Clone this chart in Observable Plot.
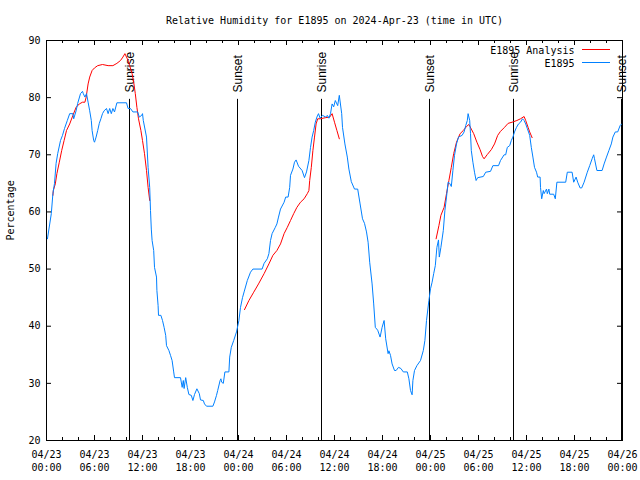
<!DOCTYPE html>
<html><head><meta charset="utf-8">
<script src="https://cdn.jsdelivr.net/npm/d3@7"></script>
<script src="https://cdn.jsdelivr.net/npm/@observablehq/plot@0.6"></script>
<style>body{margin:0;background:#fff} svg{display:block}</style>
</head><body><div id="chart"></div>
<script>
const title = "Relative Humidity for E1895 on 2024-Apr-23 (time in UTC)";
const startTime = "2024-04-23T00:00:00Z";
const endTime = "2024-04-26T00:00:00Z";
const yLabel = "Percentage";
const seriesNames = ["E1895 Analysis", "E1895"];
const seriesColors = ["#ff0000", "#0080ff"];
const yTicks = [20, 30, 40, 50, 60, 70, 80, 90];
const sunEventHours = [10.375, 23.875, 34.375, 47.875, 58.375, 71.875];
const sunEventLabels = ["Sunrise", "Sunset", "Sunrise", "Sunset", "Sunrise", "Sunset"];

// E1895 observations: hours since start, relative humidity (%)
const obsHours = [0.12,0.6,0.8,1.0,1.2,1.4,1.75,2.0,2.25,2.6,2.9,3.3,3.4,3.7,3.9,4.25,4.5,4.6,4.8,5.0,5.2,5.4,5.6,5.7,5.9,6.0,6.2,6.4,6.6,6.8,7.0,7.2,7.5,7.7,7.9,8.1,8.3,8.5,8.8,10.0,10.2,10.5,10.8,11.4,11.6,11.9,12.0,12.1,12.5,12.7,12.9,13.0,13.1,13.2,13.4,13.5,13.75,13.8,13.95,14.0,14.3,14.5,14.7,14.9,15.0,15.3,15.5,15.7,15.9,16.0,16.75,16.96,17.1,17.2,17.4,17.6,17.8,18.1,18.3,18.5,18.8,19.1,19.25,19.6,19.75,20.0,20.8,21.0,21.25,21.4,21.7,21.8,21.9,22.1,22.3,22.8,22.9,23.1,23.4,23.75,24.05,24.25,24.5,24.7,25.1,25.5,25.8,26.95,27.2,27.6,27.8,28.0,28.2,28.6,28.8,29.0,29.25,29.7,29.9,30.2,30.4,30.5,30.8,31.0,31.2,31.5,31.95,32.25,32.5,32.8,33.0,33.2,33.4,33.6,33.8,34.0,34.2,34.5,34.9,35.1,35.3,35.5,35.7,35.9,36.1,36.4,36.6,36.9,37.0,37.3,37.6,37.8,38.1,38.5,38.9,39.2,39.5,39.75,40.0,40.2,40.4,40.7,40.9,41.1,41.4,41.7,41.95,42.2,42.4,42.7,42.8,43.0,43.2,43.5,43.7,44.0,44.3,44.6,45.1,45.3,45.5,45.7,45.8,46.0,46.3,46.75,47.1,47.3,47.5,47.8,48.0,48.2,48.4,48.6,48.8,49.0,49.1,49.3,49.6,49.8,50.0,50.2,50.4,50.6,50.8,51.0,51.25,51.5,51.95,52.2,52.4,52.6,52.7,52.9,53.0,53.1,53.3,53.5,53.7,53.9,54.6,54.9,55.5,55.8,56.5,56.75,57.2,57.4,57.6,57.9,58.1,58.3,58.5,58.75,59.0,59.25,59.5,59.7,59.9,60.1,60.4,60.6,60.8,61.0,61.25,61.4,61.7,61.75,61.9,62.1,62.2,62.5,62.6,62.8,62.9,63.4,63.6,63.8,64.9,65.1,65.7,65.9,66.2,66.4,66.7,66.9,67.2,67.6,67.9,68.2,68.4,68.5,68.8,69.45,69.7,70.0,70.3,70.6,70.8,71.1,71.4,71.7,71.9];
const obsValues = [55.3,59.7,63.2,65,68.5,70.2,72.5,73.4,74.6,76,77.2,77.2,76.3,77.7,79,80.7,81.1,80.7,80.1,80.7,79.2,77.7,76,74.25,72.5,72.2,73.1,74.25,75.5,76.3,77.2,77.7,78.1,77.2,78.1,77.2,78.1,77.5,79.1,79.1,78.1,78.1,77.5,77.5,76.6,76.9,77.2,76,73.1,67.8,64.3,60.25,57,55,53.25,50.3,48.6,46.25,43.6,41.9,41.9,41,39.8,38.4,36.6,35.75,34.9,34,32,31,31,29.3,30.5,29.1,31,29.3,28.05,27.9,27,28.05,29.05,28.2,27.1,27,26.4,26,26,26.75,27.9,28.75,30.5,30.8,30.2,30,32,32,34.6,36.3,37.5,39,41,43.3,45,46,48,49.45,50,50,51,51.8,52.7,55,56.2,57.3,57.9,59.1,60.5,61.7,62.6,62.6,64.3,66.4,67.5,68.7,69.1,68,67.25,66,67,69,71.3,73.1,74.25,75.7,76.6,77.2,76.4,76.9,76.6,76.9,76.4,77.2,78.9,78.4,79.5,78.6,80.4,77.2,74.8,71.9,69.6,67.5,65.3,64,64,61.4,58.8,58,56.5,54.7,51.2,47.4,43.9,39.8,39.3,38.1,39.8,41,37.8,35.2,35.7,34.9,33.4,32.25,32.25,32.8,32.6,32,32,30.8,28.75,28,30.5,32.25,33.1,34,35.75,37.5,41,44.5,46.55,47.7,49.2,50.6,53.8,55.1,52.1,53.8,56.75,60.25,62.6,65.2,65,64.45,67.25,69.9,71.9,73.1,73.4,74,75.1,76,77.2,76,73.7,70.75,68.7,66.95,65.5,66,66.2,66.95,67.1,68.1,68.1,69,70,70,71.3,71.6,72.5,73.1,74,74.8,75.4,75.7,76.3,76,75.4,74.6,73.4,71.3,69.6,67.8,66.95,66.1,66.1,64.3,62.3,63.75,63.2,64,63.2,64,63.1,63.1,62.3,65.2,65.2,66.95,66.95,65.2,66.1,65.2,64.2,64.2,65.2,66.95,68.1,69.3,70,69.3,67.25,67.25,68.4,69.6,70.75,71.9,73.1,74,74,75.1,75.4];

// E1895 Analysis: three 12-hour runs
const anaHours = [0.8,0.85,1.1,1.3,1.6,1.9,2.2,2.5,2.9,3.3,3.7,4.1,4.5,4.8,4.96,5.2,5.4,5.7,6.0,6.4,7.0,7.7,8.3,8.8,9.25,9.55,9.8,10.1,10.4,10.7,10.9,11.1,11.3,11.5,11.8,12.0,12.25,12.5,12.7,12.9,
  24.75,25.3,25.9,26.5,27.2,27.8,28.3,28.8,29.25,29.7,30.1,30.5,30.9,31.3,31.75,32.2,32.6,32.8,32.9,33.1,33.3,33.5,33.7,33.9,34.2,34.9,35.4,35.7,36.0,36.3,36.6,
  48.7,49.05,49.3,49.7,50.0,50.3,50.6,50.9,51.25,51.7,52.1,52.5,52.8,53.1,53.4,53.8,54.2,54.5,54.7,55.1,55.6,56.0,56.4,56.75,57.25,57.7,58.2,58.8,59.25,59.7,59.9,60.2,60.4,60.7];
const anaValues = [62.9,63.75,64.9,66.7,68.7,70.75,72.5,74.25,75.4,76.9,78.3,78.9,79.2,79.2,80.1,82.4,83.6,84.75,85.2,85.6,85.8,85.6,85.6,86,86.5,87.1,87.7,86.8,85.6,84.2,82.7,80.7,78.3,76.3,74.25,72.5,70.2,67.25,64.3,62,
  42.9,44.5,45.95,47.4,49.2,50.9,52.4,53.25,54.4,56.2,57.3,58.5,59.7,60.8,61.7,62.3,63.2,63.75,65.5,67.8,70.75,73.1,75.4,76.3,76.3,76.5,76.6,77.2,75.7,74.25,72.8,
  55.3,57.6,59.4,60.8,63.2,65.5,67.8,70.2,72.2,73.7,74.25,74.95,75.3,74.5,73.7,72.2,70.9,69.7,69.3,70.05,70.9,71.9,73.4,74.1,74.8,75.5,75.7,76,76.3,76.7,76,74.8,74,73];

const t0 = Date.parse(startTime), t1 = Date.parse(endTime);
const toDate = h => new Date(t0 + h * 3600e3);
const obs = obsHours.map((h, i) => ({t: toDate(h), v: obsValues[i]}));
const ana = anaHours.map((h, i) => ({t: toDate(h), v: anaValues[i], seg: h < 20 ? 0 : h < 44 ? 1 : 2}));
const sun = sunEventHours.map((h, i) => ({t: toDate(h), label: sunEventLabels[i]}));
const majors = d3.utcHour.every(6).range(new Date(t0), new Date(t1 + 1));
const minors = d3.utcHour.every(2).range(new Date(t0), new Date(t1 + 1)).filter(d => d.getUTCHours() % 6 !== 0);
const fmt = d3.utcFormat("%m/%d\n%H:%M");

const W = 640, H = 480, mL = 46, mR = 18, mT = 40, mB = 40;
const innerH = H - mT - mB, innerW = W - mL - mR;
const mono = "DejaVu Sans Mono";

const chart = Plot.plot({
  width: W, height: H, marginLeft: mL, marginRight: mR, marginTop: mT, marginBottom: mB,
  style: {fontFamily: mono, fontSize: "10px", color: "black", background: "white"},
  x: {type: "utc", domain: [new Date(t0), new Date(t1)]},
  y: {domain: [20, 90]},
  marks: [
    Plot.ruleX(sun, {x: "t", y1: 20, y2: 79.7, stroke: "black", strokeWidth: 1}),
    Plot.text(sun, {x: "t", text: "label", frameAnchor: "top", rotate: -90, textAnchor: "start", dy: 52, dx: -4, fontFamily: "Liberation Sans", fontSize: 12}),
    Plot.line(ana, {x: "t", y: "v", z: "seg", stroke: seriesColors[0], strokeWidth: 1}),
    Plot.line(obs, {x: "t", y: "v", stroke: seriesColors[1], strokeWidth: 1}),
    Plot.tickX(majors, {x: d => d, insetTop: innerH - 5, stroke: "black"}),
    Plot.tickX(majors, {x: d => d, insetBottom: innerH - 5, stroke: "black"}),
    Plot.tickX(minors, {x: d => d, insetTop: innerH - 3, stroke: "black"}),
    Plot.tickX(minors, {x: d => d, insetBottom: innerH - 3, stroke: "black"}),
    Plot.tickY(yTicks, {y: d => d, insetRight: innerW - 5, stroke: "black"}),
    Plot.tickY(yTicks, {y: d => d, insetLeft: innerW - 5, stroke: "black"}),
    Plot.frame({stroke: "black"}),
    Plot.axisX({ticks: majors, tickSize: 0, tickPadding: 8.5, tickFormat: fmt, label: null, lineHeight: 1.27}),
    Plot.axisY({ticks: yTicks, tickSize: 0, tickPadding: 6, label: null}),
    Plot.text([title], {frameAnchor: "top", dy: -24}),
    Plot.text([yLabel], {frameAnchor: "left", rotate: -90, dx: -36}),
    Plot.text([seriesNames[0]], {frameAnchor: "top-right", textAnchor: "end", dx: -48, dy: 6.5}),
    Plot.text([seriesNames[1]], {frameAnchor: "top-right", textAnchor: "end", dx: -48, dy: 19.5})
  ]
});

// legend swatches
const svg = d3.select(chart);
[9.5, 22.5].forEach((dy, i) => {
  svg.append("line")
    .attr("x1", W - mR - 40).attr("x2", W - mR - 12)
    .attr("y1", mT + dy).attr("y2", mT + dy)
    .attr("stroke", seriesColors[i]).attr("stroke-width", 1);
});
document.getElementById("chart").append(chart);
</script></body></html>
